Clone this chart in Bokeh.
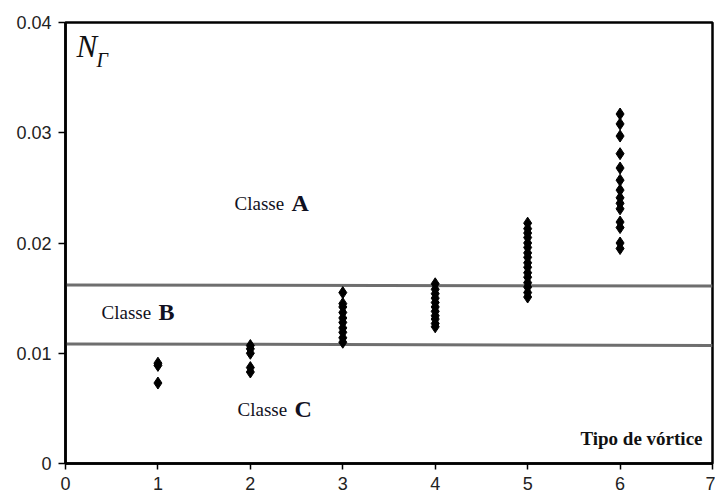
from bokeh.plotting import figure
from bokeh.models import ColumnDataSource, FixedTicker, Label
from bokeh.embed import file_html
from bokeh.resources import INLINE

# ---- data ----
x_ticks = [0, 1, 2, 3, 4, 5, 6, 7]
x_tick_labels = ["0", "1", "2", "3", "4", "5", "6", "7"]
y_ticks = [0.0, 0.01, 0.02, 0.03, 0.04]
y_tick_labels = ["0", "0.01", "0.02", "0.03", "0.04"]

vortex_type = [1, 2, 3, 4, 5, 6]
n_gamma = [
    [0.0091, 0.0089, 0.0073],
    [0.0107, 0.0104, 0.0100, 0.0087, 0.0083],
    [0.0155, 0.0145, 0.0142, 0.0137, 0.0132, 0.0128, 0.0123, 0.0119, 0.0114, 0.0110],
    [0.0163, 0.0158, 0.0154, 0.0150, 0.0146, 0.0142, 0.0138, 0.0134, 0.0131, 0.0127, 0.0124],
    [0.0218, 0.0213, 0.0209, 0.0205, 0.0200, 0.0196, 0.0191, 0.0187, 0.0182, 0.0178,
     0.0173, 0.0169, 0.0164, 0.0160, 0.0155, 0.0151],
    [0.0317, 0.0308, 0.0297, 0.0281, 0.0268, 0.0257, 0.0248, 0.0241, 0.0236, 0.0231,
     0.0219, 0.0214, 0.0200, 0.0195],
]

boundary_x = [0, 7]
boundary_AB = [0.0162, 0.0161]
boundary_BC = [0.01085, 0.0107]

class_labels = ["A", "B", "C"]
class_label_pos = [(1.829, 0.0236), (0.39, 0.0137), (1.861, 0.0049)]

# ---- figure ----
p = figure(width=715, height=493, x_range=(0, 7), y_range=(0, 0.04),
           output_backend="svg", toolbar_location=None,
           min_border_left=65, min_border_right=3, min_border_top=22,
           min_border_bottom=30)
p.background_fill_color = "white"
p.border_fill_color = "white"
p.xgrid.visible = False
p.ygrid.visible = False
p.outline_line_color = "black"
p.outline_line_width = 2.5

for ax in (p.xaxis[0], p.yaxis[0]):
    ax.axis_line_color = "black"
    ax.axis_line_width = 2.5
    ax.major_tick_line_color = "black"
    ax.major_tick_line_width = 1.5
    ax.major_tick_in = 0
    ax.minor_tick_line_color = None
    ax.major_label_text_font = "Liberation Sans"
    ax.major_label_text_font_size = "18px"
    ax.major_label_text_color = "#222222"

p.xaxis.ticker = FixedTicker(ticks=x_ticks)
p.xaxis.major_label_overrides = {t: l for t, l in zip(x_ticks, x_tick_labels)}
p.xaxis.major_tick_out = 6
p.xaxis.major_label_standoff = 7

p.yaxis.ticker = FixedTicker(ticks=y_ticks)
p.yaxis.major_label_overrides = {t: l for t, l in zip(y_ticks, y_tick_labels)}
p.yaxis.major_tick_out = 7
p.yaxis.major_label_standoff = 7

# boundary lines
p.line(boundary_x, boundary_AB, line_color="#6e6e6e", line_width=3)
p.line(boundary_x, boundary_BC, line_color="#6e6e6e", line_width=3)

# points
xs, ys = [], []
for xv, vals in zip(vortex_type, n_gamma):
    for v in vals:
        xs.append(xv)
        ys.append(v)
src = ColumnDataSource(dict(x=xs, y=ys))
p.scatter("x", "y", source=src, marker="diamond", size=12,
          fill_color="black", line_color="black", line_width=1)

# labels
serif = "Liberation Serif"
for letter, (lx, ly) in zip(class_labels, class_label_pos):
    p.add_layout(Label(x=lx, y=ly, text="Classe", text_font=serif,
                       text_font_size="19px", text_color="#111122",
                       text_baseline="alphabetic", text_align="left"))
    p.add_layout(Label(x=lx, y=ly, x_offset=57, text=letter, text_font=serif,
                       text_font_size="24px", text_font_style="bold",
                       text_color="#111122",
                       text_baseline="alphabetic", text_align="left"))

p.add_layout(Label(x=6.892, y=0.0023, text="Tipo de vórtice", text_font=serif,
                   text_font_size="19px", text_font_style="bold",
                   text_color="#111111", text_baseline="alphabetic",
                   text_align="right"))

p.add_layout(Label(x=0.119, y=0.0378, text="N", text_font=serif,
                   text_font_size="31px", text_font_style="italic",
                   text_color="#111111", text_baseline="alphabetic"))
p.add_layout(Label(x=0.335, y=0.0366, text="Γ", text_font=serif,
                   text_font_size="20px", text_font_style="italic",
                   text_color="#111111", text_baseline="alphabetic"))

open("out.html", "w").write(file_html(p, INLINE))
